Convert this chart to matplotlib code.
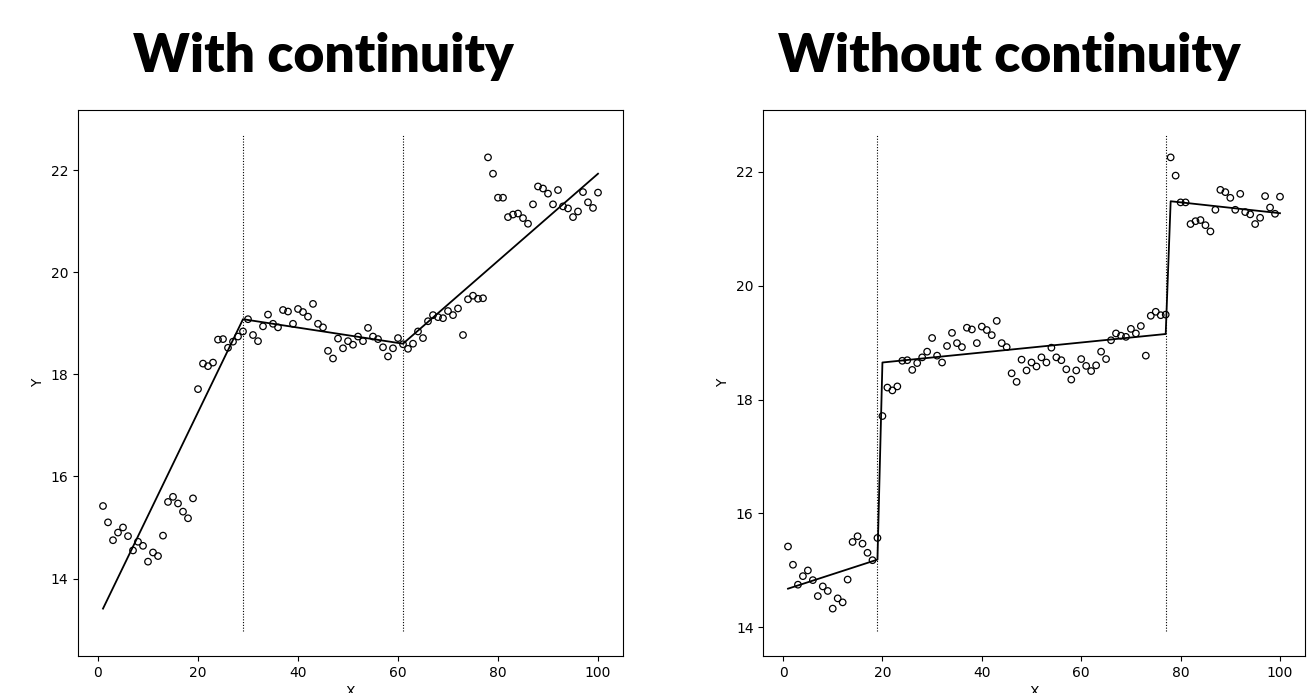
import matplotlib
matplotlib.use("Agg")
import matplotlib.pyplot as plt

# ---------------- data ----------------
x_vals = list(range(1, 101))
y_vals = [
    15.42, 15.10, 14.75, 14.90, 15.00, 14.83, 14.55, 14.72, 14.64, 14.33,
    14.51, 14.44, 14.84, 15.50, 15.60, 15.47, 15.31, 15.18, 15.57, 17.71,
    18.21, 18.16, 18.23, 18.68, 18.69, 18.52, 18.64, 18.74, 18.84, 19.08,
    18.77, 18.65, 18.94, 19.17, 18.99, 18.92, 19.26, 19.23, 18.99, 19.28,
    19.22, 19.13, 19.38, 18.99, 18.92, 18.46, 18.31, 18.70, 18.51, 18.65,
    18.58, 18.74, 18.65, 18.91, 18.74, 18.69, 18.53, 18.35, 18.51, 18.71,
    18.59, 18.50, 18.60, 18.84, 18.71, 19.04, 19.16, 19.12, 19.10, 19.24,
    19.16, 19.29, 18.77, 19.47, 19.54, 19.48, 19.49, 22.25, 21.93, 21.46,
    21.46, 21.08, 21.13, 21.15, 21.06, 20.95, 21.33, 21.68, 21.64, 21.54,
    21.33, 21.61, 21.29, 21.25, 21.08, 21.19, 21.57, 21.37, 21.26, 21.56,
]

# fitted model with continuity (knots)
fit_cont_x = [1, 29, 61, 100]
fit_cont_y = [13.41, 19.08, 18.60, 21.93]
breaks_cont = [29, 61]

# fitted model without continuity
fit_disc_x = [1, 19, 20, 77, 78, 100]
fit_disc_y = [14.68, 15.19, 18.65, 19.15, 21.48, 21.27]
breaks_disc = [19, 77]

titles = ["With continuity", "Without continuity"]

# ---------------- figure ----------------
W, H = 1312, 693
fig = plt.figure(figsize=(W / 100, H / 100), dpi=100)
ax1 = fig.add_axes([78.25 / W, 1 - 656 / H, 544.5 / W, 546 / H])
ax2 = fig.add_axes([763.4 / W, 1 - 656 / H, 541.2 / W, 546 / H])

panels = [
    (ax1, fit_cont_x, fit_cont_y, breaks_cont),
    (ax2, fit_disc_x, fit_disc_y, breaks_disc),
]


def padded(lo, hi, frac=0.05):
    d = (hi - lo) * frac
    return lo - d, hi + d


for ax, fx, fy, br in panels:
    ax.scatter(x_vals, y_vals, s=22, facecolors="none", edgecolors="black",
               linewidths=0.9, zorder=3)
    ax.plot(fx, fy, color="black", linewidth=1.3, zorder=2)
    # first-stage limits from the data -> extent of the break lines
    lo, hi = padded(min(min(y_vals), min(fy)), max(max(y_vals), max(fy)))
    ax.vlines(br, lo, hi, colors="black", linestyles=(0, (1, 1.5)),
              linewidth=0.8, zorder=1)
    ax.set_ylim(*padded(lo, hi))
    ax.set_xlim(*padded(min(x_vals), max(x_vals)))
    ax.set_xticks([0, 20, 40, 60, 80, 100])
    ax.set_xlabel("X")
    ax.set_ylabel("Y")
    ax.tick_params(labelsize=10)

# titles, sized so that the left one spans ~380 px
title_cx = [323 / W, 1009 / W]
texts = []
for t, cx in zip(titles, title_cx):
    texts.append(fig.text(cx, 1 - 72 / H, t, ha="center", va="baseline",
                          fontsize=40, fontweight="heavy", family="Lato"))
fig.canvas.draw()
r = fig.canvas.get_renderer()
w0 = texts[0].get_window_extent(r).width
fs = 40 * 380 / w0
for tx in texts:
    tx.set_fontsize(fs)

fig.savefig("out.png", dpi=100)
